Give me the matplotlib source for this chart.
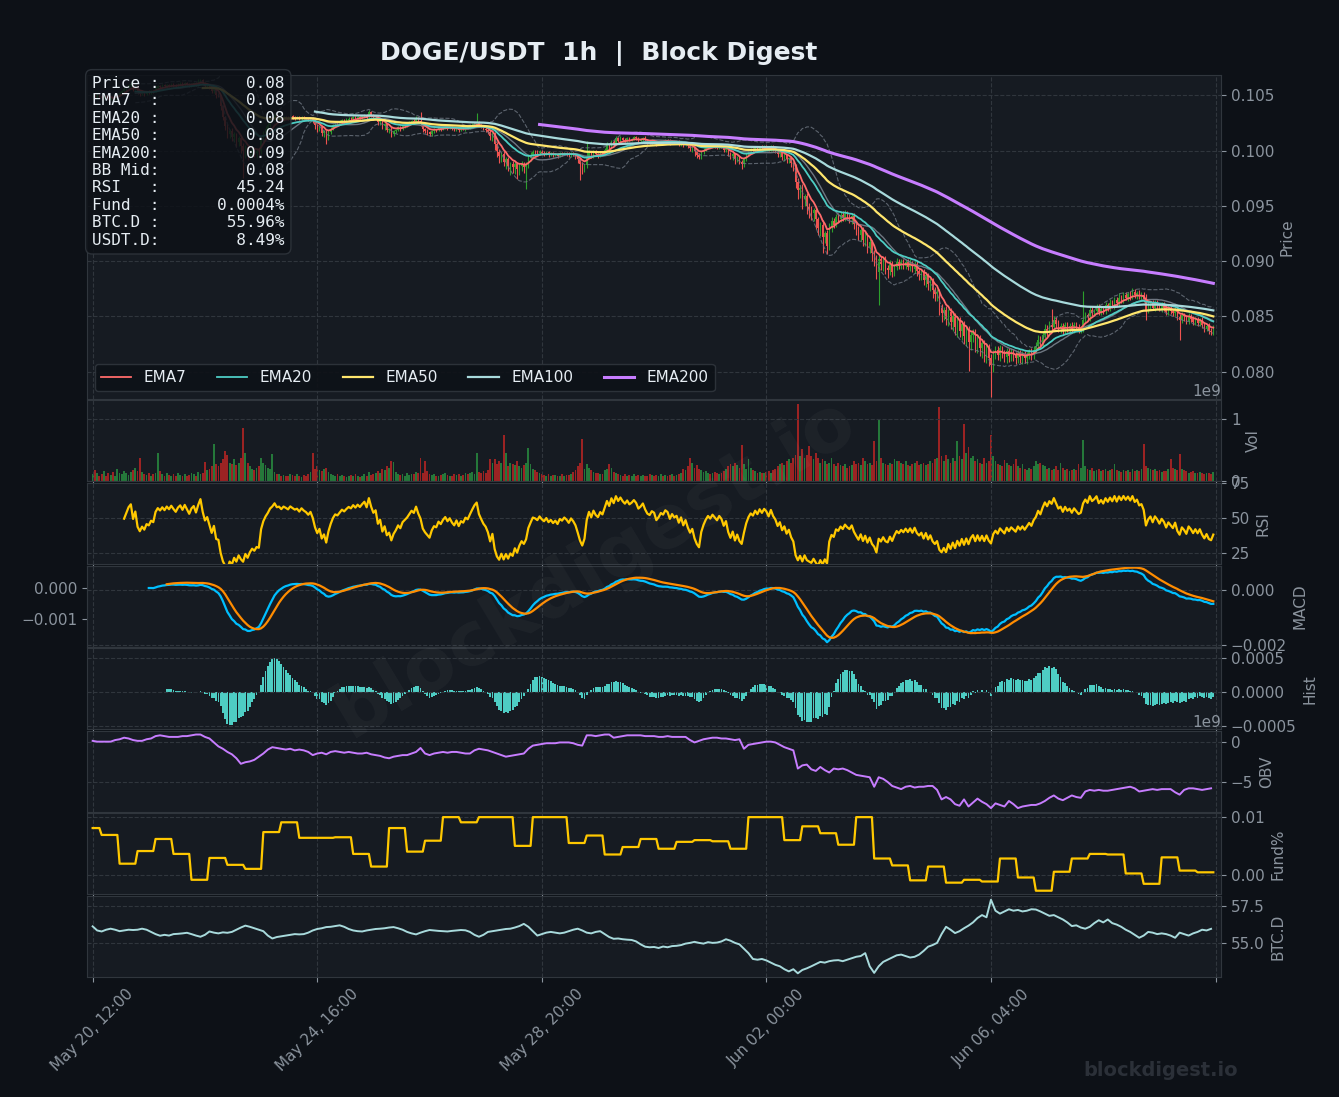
import numpy as np
import pandas as pd
import matplotlib
matplotlib.use("Agg")
import matplotlib.pyplot as plt
from matplotlib.ticker import MaxNLocator, MultipleLocator, FuncFormatter

# ---- data (hourly) ----
start = "2025-05-20 12:00"

# closes in 1e-5 USDT
close_pips = [
    10500, 10488, 10505, 10492, 10478, 10495, 10484, 10470, 10482, 10468, 10480, 10500, 10520, 10540, 10555, 10572, 10590, 10600, 10560, 10585,
    10530, 10510, 10525, 10512, 10530, 10525, 10540, 10535, 10570, 10585, 10578, 10590, 10582, 10595, 10588, 10600, 10592, 10585, 10598, 10605,
    10595, 10610, 10600, 10590, 10605, 10612, 10598, 10620, 10640, 10610, 10585, 10595, 10570, 10540, 10560, 10500, 10495, 10400, 10300, 10220,
    10150, 10180, 10120, 10150, 10080, 10110, 10040, 9990, 10030, 9960, 9990, 10010, 9980, 10000, 9990, 10100, 10160, 10200, 10230, 10270,
    10290, 10320, 10295, 10300, 10285, 10305, 10298, 10290, 10310, 10302, 10295, 10300, 10288, 10305, 10296, 10290, 10280, 10292, 10270, 10230,
    10200, 10215, 10160, 10175, 10120, 10165, 10200, 10230, 10250, 10245, 10260, 10275, 10268, 10280, 10290, 10285, 10300, 10292, 10305, 10298,
    10310, 10320, 10305, 10345, 10320, 10300, 10310, 10260, 10275, 10220, 10240, 10190, 10200, 10150, 10175, 10190, 10210, 10195, 10220, 10230,
    10240, 10255, 10270, 10262, 10290, 10265, 10245, 10200, 10180, 10165, 10150, 10175, 10190, 10185, 10205, 10195, 10210, 10220, 10205, 10215,
    10200, 10190, 10205, 10185, 10200, 10195, 10210, 10205, 10220, 10235, 10250, 10260, 10230, 10215, 10200, 10190, 10170, 10130, 10150, 10060,
    9990, 9950, 9970, 9900, 9920, 9860, 9880, 9850, 9880, 9830, 9860, 9880, 9855, 9875, 9930, 9960, 9990, 9985, 9975, 9995,
    9980, 9970, 9985, 9965, 9975, 9960, 9970, 9955, 9975, 9968, 9980, 9972, 9960, 9975, 9965, 9950, 9920, 9880, 9850, 9870,
    9940, 9980, 9955, 9990, 9970, 9960, 9985, 9975, 10010, 10050, 10030, 10080, 10060, 10110, 10090, 10115, 10100, 10090, 10110, 10095,
    10105, 10120, 10110, 10090, 10100, 10115, 10095, 10080, 10075, 10090, 10085, 10060, 10070, 10085, 10080, 10095, 10090, 10070, 10085, 10075,
    10080, 10060, 10075, 10050, 10065, 10040, 10020, 10030, 9990, 9960, 9940, 9985, 10010, 10030, 10045, 10035, 10050, 10040, 10030, 10045,
    10035, 10010, 10025, 9980, 9950, 9970, 9920, 9940, 9900, 9880, 9920, 9960, 9990, 10010, 10000, 10025, 10010, 10035, 10020, 10040,
    10030, 10010, 10040, 10015, 10000, 9970, 9985, 9945, 9960, 9920, 9935, 9890, 9860, 9720, 9640, 9660, 9560, 9590, 9500, 9470,
    9440, 9460, 9380, 9300, 9330, 9220, 9250, 9140, 9300, 9360, 9330, 9400, 9380, 9420, 9390, 9430, 9400, 9380, 9410, 9340,
    9290, 9240, 9280, 9190, 9230, 9130, 9170, 9070, 9020, 8900, 9020, 8970, 9010, 8940, 8920, 8970, 8900, 8950, 8990, 8960,
    8990, 8960, 8990, 8950, 8980, 8930, 8970, 8910, 8880, 8900, 8830, 8870, 8790, 8820, 8740, 8700, 8720, 8580, 8530, 8560,
    8480, 8540, 8450, 8500, 8400, 8460, 8370, 8430, 8320, 8380, 8270, 8330, 8360, 8250, 8310, 8210, 8260, 8160, 8220, 8120,
    8060, 8160, 8200, 8150, 8210, 8170, 8130, 8190, 8140, 8180, 8150, 8120, 8170, 8130, 8160, 8120, 8150, 8180, 8150, 8200,
    8230, 8290, 8260, 8330, 8390, 8360, 8420, 8400, 8470, 8430, 8390, 8410, 8370, 8420, 8390, 8410, 8380, 8420, 8400, 8380,
    8390, 8470, 8510, 8490, 8560, 8530, 8550, 8580, 8540, 8570, 8550, 8600, 8580, 8620, 8600, 8650, 8620, 8670, 8650, 8690,
    8670, 8700, 8680, 8720, 8690, 8710, 8680, 8690, 8660, 8560, 8600, 8620, 8580, 8620, 8600, 8570, 8600, 8580, 8540, 8570,
    8550, 8530, 8560, 8500, 8470, 8510, 8490, 8460, 8500, 8480, 8450, 8470, 8440, 8460, 8420, 8390, 8410, 8370, 8360, 8385,
]

# upper / lower wick beyond the candle body, 1e-5 USDT
wick_hi = [
    12, 8, 15, 10, 6, 14, 9, 11, 7, 13, 10, 16, 12, 9, 18, 14, 11, 20, 15, 8,
    10, 14, 9, 12, 8, 15, 11, 7, 18, 10, 12, 9, 14, 8, 11, 13, 9, 15, 10, 12,
    14, 9, 11, 16, 8, 12, 10, 25, 12, 9, 14, 8, 11, 10, 13, 9, 18, 12, 10, 15,
    20, 14, 25, 18, 12, 22, 15, 30, 20, 25, 18, 30, 15, 22, 18, 25, 14, 20, 16, 12,
    15, 10, 12, 9, 14, 11, 8, 13, 10, 12, 9, 14, 11, 8, 12, 10, 9, 13, 11, 15,
    12, 9, 14, 10, 8, 20, 15, 12, 10, 9, 13, 11, 8, 12, 10, 14, 9, 11, 8, 10,
    12, 14, 9, 20, 11, 8, 10, 12, 9, 14, 11, 10, 8, 12, 15, 10, 9, 13, 11, 10,
    14, 12, 10, 15, 25, 12, 80, 10, 9, 12, 10, 14, 11, 9, 12, 10, 13, 11, 9, 12,
    10, 12, 9, 11, 14, 10, 12, 9, 13, 15, 11, 80, 12, 10, 9, 11, 10, 14, 18, 20,
    22, 25, 18, 30, 20, 25, 15, 30, 20, 18, 25, 22, 18, 20, 35, 25, 20, 15, 18, 14,
    12, 15, 10, 13, 11, 14, 9, 12, 10, 13, 11, 9, 12, 10, 14, 11, 15, 12, 14, 10,
    150, 30, 20, 18, 15, 12, 14, 10, 18, 25, 20, 15, 12, 18, 14, 20, 12, 15, 10, 14,
    12, 15, 10, 14, 11, 9, 13, 10, 12, 14, 9, 11, 10, 13, 12, 10, 14, 11, 9, 12,
    11, 14, 10, 12, 9, 13, 10, 14, 12, 10, 15, 12, 11, 14, 10, 12, 9, 13, 11, 10,
    12, 10, 14, 11, 9, 13, 10, 12, 15, 11, 14, 18, 12, 10, 14, 11, 13, 10, 12, 15,
    12, 14, 10, 13, 11, 15, 12, 10, 14, 12, 11, 13, 10, 20, 30, 25, 35, 20, 25, 30,
    30, 25, 35, 20, 28, 40, 25, 30, 45, 35, 30, 25, 40, 28, 30, 35, 25, 30, 28, 22,
    25, 30, 22, 28, 35, 25, 30, 22, 28, 35, 40, 30, 25, 35, 28, 40, 30, 25, 35, 28,
    25, 30, 22, 28, 35, 25, 30, 28, 22, 30, 25, 28, 22, 30, 25, 28, 30, 25, 28, 22,
    30, 25, 35, 28, 30, 40, 35, 28, 30, 25, 35, 40, 30, 28, 35, 25, 30, 28, 35, 30,
    40, 35, 30, 28, 35, 25, 30, 28, 25, 30, 28, 25, 30, 28, 25, 30, 28, 25, 30, 28,
    35, 40, 30, 35, 40, 30, 35, 150, 30, 28, 35, 30, 28, 25, 30, 28, 35, 30, 28, 30,
    25, 260, 30, 22, 35, 30, 18, 28, 33, 25, 20, 30, 25, 35, 30, 22, 28, 40, 25, 28,
    30, 22, 28, 35, 30, 18, 25, 30, 28, 40, 30, 22, 25, 30, 28, 20, 32, 28, 25, 30,
    25, 20, 28, 32, 22, 28, 25, 18, 30, 25, 22, 28, 20, 22, 30, 25, 18, 28, 22, 35,
]

wick_lo = [
    10, 14, 9, 12, 16, 8, 13, 11, 15, 9, 12, 10, 8, 14, 10, 12, 9, 11, 16, 10,
    18, 12, 10, 14, 9, 12, 10, 15, 8, 12, 10, 14, 9, 11, 13, 10, 12, 9, 14, 11,
    10, 13, 9, 15, 11, 10, 14, 9, 12, 18, 14, 10, 16, 20, 15, 25, 12, 30, 25, 35,
    40, 35, 30, 45, 50, 40, 60, 240, 60, 45, 40, 50, 35, 45, 30, 25, 20, 18, 15, 12,
    14, 10, 12, 15, 9, 13, 11, 14, 10, 12, 15, 9, 13, 11, 10, 14, 12, 15, 20, 35,
    30, 25, 28, 35, 60, 20, 15, 12, 14, 10, 12, 9, 13, 11, 14, 10, 12, 15, 9, 12,
    10, 12, 15, 9, 14, 20, 18, 25, 30, 22, 35, 20, 30, 25, 18, 14, 12, 15, 10, 12,
    12, 10, 14, 11, 9, 15, 20, 30, 25, 20, 18, 14, 12, 15, 10, 13, 11, 12, 14, 10,
    12, 14, 10, 15, 12, 11, 13, 10, 12, 9, 11, 10, 14, 12, 15, 18, 20, 35, 40, 50,
    45, 60, 50, 40, 70, 45, 80, 50, 60, 90, 50, 40, 60, 200, 30, 25, 20, 22, 18, 15,
    14, 18, 12, 20, 15, 18, 12, 20, 14, 16, 12, 18, 20, 15, 18, 25, 30, 150, 60, 40,
    25, 20, 25, 18, 22, 25, 18, 15, 14, 12, 15, 12, 14, 10, 12, 15, 12, 14, 10, 12,
    12, 10, 14, 18, 12, 10, 15, 18, 14, 12, 15, 20, 12, 10, 14, 12, 10, 15, 12, 14,
    12, 15, 14, 18, 12, 20, 25, 30, 35, 25, 18, 14, 12, 10, 12, 14, 10, 12, 15, 12,
    14, 18, 20, 25, 30, 35, 40, 25, 20, 45, 25, 15, 12, 14, 10, 12, 14, 10, 12, 15,
    12, 15, 12, 14, 18, 25, 30, 28, 35, 30, 28, 35, 40, 60, 80, 70, 90, 60, 70, 80,
    70, 80, 90, 60, 70, 150, 60, 80, 40, 35, 30, 25, 30, 28, 25, 30, 28, 35, 40, 45,
    50, 45, 60, 55, 50, 60, 55, 70, 60, 65, 300, 50, 60, 55, 70, 50, 40, 35, 30, 35,
    30, 35, 30, 28, 35, 30, 40, 45, 50, 55, 50, 60, 55, 60, 70, 65, 60, 70, 80, 60,
    60, 70, 65, 80, 70, 90, 60, 80, 70, 85, 260, 70, 60, 75, 80, 70, 85, 75, 80, 70,
    290, 60, 50, 45, 55, 50, 45, 50, 55, 45, 50, 55, 45, 50, 60, 45, 50, 40, 45, 40,
    35, 30, 40, 35, 30, 40, 35, 30, 28, 35, 30, 40, 35, 30, 28, 35, 30, 28, 35, 30,
    30, 28, 25, 30, 28, 25, 30, 28, 25, 30, 28, 25, 30, 28, 25, 30, 28, 25, 30, 28,
    25, 28, 30, 25, 28, 30, 25, 28, 30, 90, 28, 30, 25, 28, 30, 25, 28, 30, 25, 28,
    30, 28, 25, 30, 180, 28, 30, 25, 28, 30, 25, 28, 30, 25, 28, 30, 25, 28, 30, 25,
]

# volume, millions of DOGE
volume_m = [
    120, 180, 140, 90, 110, 160, 80, 130, 100, 150, 90, 200, 140, 110, 170, 130, 100, 150, 180, 220,
    160, 380, 150, 120, 100, 140, 90, 110, 130, 460, 170, 120, 90, 140, 100, 80, 110, 90, 130, 100,
    90, 120, 80, 100, 140, 110, 90, 150, 120, 130, 310, 180, 200, 240, 600, 280, 250, 300, 350, 490,
    420, 300, 280, 350, 260, 300, 380, 850, 460, 300, 250, 200, 180, 220, 250, 380, 300, 260, 220, 200,
    440, 150, 120, 110, 90, 100, 80, 90, 120, 100, 80, 110, 90, 70, 100, 80, 120, 150, 460, 200,
    250, 180, 160, 200, 220, 150, 120, 100, 90, 110, 80, 100, 90, 70, 85, 95, 80, 110, 90, 75,
    90, 110, 80, 150, 100, 120, 140, 160, 130, 200, 180, 250, 220, 330, 310, 150, 120, 100, 110, 90,
    130, 100, 120, 110, 150, 140, 380, 130, 330, 160, 120, 100, 110, 80, 90, 100, 110, 130, 95, 85,
    90, 110, 100, 120, 80, 95, 140, 110, 130, 150, 120, 460, 150, 130, 160, 140, 180, 360, 300, 350,
    280, 320, 300, 740, 460, 250, 300, 280, 260, 320, 240, 220, 260, 300, 540, 280, 200, 180, 150, 140,
    120, 100, 90, 110, 80, 95, 100, 85, 90, 110, 80, 95, 100, 120, 150, 180, 250, 300, 680, 200,
    280, 220, 180, 150, 130, 140, 120, 110, 180, 200, 280, 220, 150, 130, 110, 100, 90, 110, 85, 100,
    90, 110, 80, 95, 85, 100, 90, 80, 110, 95, 85, 100, 90, 120, 80, 95, 85, 100, 110, 90,
    100, 120, 140, 200, 180, 250, 380, 300, 220, 260, 200, 180, 150, 160, 140, 120, 130, 150, 140, 120,
    130, 160, 200, 240, 280, 250, 300, 260, 220, 580, 280, 200, 350, 220, 180, 160, 140, 150, 130, 140,
    150, 160, 140, 180, 200, 240, 280, 300, 260, 320, 350, 300, 380, 420, 1230, 400, 510, 380, 420, 560,
    400, 350, 450, 380, 300, 350, 320, 280, 300, 380, 280, 250, 300, 260, 240, 280, 220, 240, 260, 320,
    280, 300, 260, 380, 320, 280, 300, 260, 650, 320, 1000, 380, 300, 280, 260, 300, 280, 360, 320, 330,
    300, 280, 320, 260, 240, 280, 300, 320, 260, 280, 300, 260, 280, 320, 300, 350, 380, 1180, 400, 320,
    420, 350, 300, 380, 320, 650, 400, 350, 920, 450, 550, 380, 400, 320, 350, 300, 280, 380, 300, 320,
    740, 400, 320, 280, 260, 240, 340, 300, 260, 240, 280, 360, 250, 220, 280, 200, 180, 220, 200, 240,
    320, 280, 300, 260, 240, 200, 220, 180, 200, 240, 180, 300, 220, 180, 200, 160, 180, 200, 180, 280,
    220, 660, 250, 200, 180, 220, 160, 180, 200, 160, 180, 200, 160, 180, 200, 280, 180, 160, 150, 180,
    160, 180, 150, 200, 170, 180, 160, 200, 600, 250, 220, 200, 180, 200, 160, 180, 150, 170, 160, 200,
    360, 220, 200, 180, 440, 200, 180, 160, 140, 150, 160, 140, 130, 150, 140, 120, 130, 140, 120, 150,
]

# OBV every 2 hours, units of 1e8
obv_2h = [
    2, 1, 1, 1, 1, 3, 4, 6, 5, 3, 2, 2, 4, 5, 8, 9, 8, 7, 7, 7, 8, 8, 9, 10, 10,
    7, 5, 0, -5, -8, -12, -15, -20, -27, -25, -24, -22, -18, -14, -9, -6, -7, -8, -9, -8, -10, -9, -10, -12, -16,
    -14, -13, -15, -12, -11, -12, -13, -12, -13, -14, -14, -13, -15, -16, -17, -19, -20, -18, -17, -16, -16, -14, -12, -7, -14,
    -16, -14, -13, -12, -13, -12, -12, -13, -14, -14, -10, -8, -9, -10, -12, -14, -16, -18, -17, -16, -15, -14, -8, -4, -3,
    -2, -1, -1, -1, 0, 0, 0, -1, -3, -4, 9, 9, 8, 9, 10, 10, 6, 7, 8, 9, 9, 9, 9, 8, 8,
    8, 7, 7, 8, 7, 7, 7, 7, 3, 0, 2, 4, 5, 6, 6, 5, 5, 4, 3, 4, -8, -3, -2, -1, 0,
    1, 1, 0, -3, -6, -8, -10, -33, -29, -28, -34, -36, -31, -35, -38, -33, -34, -33, -35, -38, -41, -42, -43, -44, -56,
    -44, -46, -50, -55, -57, -59, -56, -55, -57, -56, -56, -55, -55, -60, -72, -69, -72, -78, -80, -72, -81, -76, -71, -75, -78,
    -83, -77, -79, -81, -74, -78, -83, -81, -80, -79, -79, -77, -74, -70, -67, -71, -73, -70, -67, -69, -70, -62, -60, -61, -60,
    -61, -61, -60, -59, -58, -57, -56, -58, -62, -61, -60, -59, -60, -59, -59, -59, -63, -66, -60, -58, -58, -59, -60, -59, -58,
]

# BTC dominance every 2 hours, %
btcd_2h = [
    56.13, 55.85, 55.78, 55.90, 55.97, 55.90, 55.80, 55.85, 55.90, 55.88, 55.90, 55.97, 55.90, 55.75, 55.60, 55.49, 55.55, 55.50, 55.60, 55.62, 55.65, 55.69, 55.60, 55.50, 55.42,
    55.55, 55.78, 55.70, 55.65, 55.72, 55.69, 55.75, 55.90, 56.05, 56.18, 56.10, 56.00, 55.90, 55.80, 55.50, 55.30, 55.40, 55.45, 55.50, 55.55, 55.60, 55.58, 55.60, 55.70, 55.85,
    55.95, 56.00, 56.08, 56.10, 56.15, 56.20, 56.10, 55.95, 55.85, 55.80, 55.78, 55.85, 55.90, 55.95, 55.97, 56.00, 56.05, 56.08, 56.00, 55.90, 55.75, 55.65, 55.58, 55.70, 55.80,
    55.88, 55.85, 55.82, 55.80, 55.78, 55.82, 55.85, 55.88, 55.86, 55.75, 55.55, 55.42, 55.55, 55.75, 55.80, 55.85, 55.90, 55.95, 55.97, 56.05, 56.15, 56.30, 56.10, 55.80, 55.50,
    55.60, 55.70, 55.75, 55.70, 55.65, 55.70, 55.80, 55.90, 55.97, 55.85, 55.70, 55.65, 55.75, 55.80, 55.60, 55.40, 55.28, 55.30, 55.25, 55.22, 55.20, 55.10, 54.90, 54.74, 54.70,
    54.72, 54.65, 54.75, 54.70, 54.78, 54.80, 54.85, 54.95, 55.00, 55.07, 55.00, 54.95, 55.05, 55.00, 55.02, 55.10, 55.25, 55.15, 55.00, 54.90, 54.60, 54.30, 53.90, 53.85, 53.90,
    53.80, 53.65, 53.50, 53.40, 53.20, 53.05, 53.20, 52.92, 53.15, 53.26, 53.40, 53.55, 53.70, 53.65, 53.75, 53.80, 53.82, 53.75, 53.85, 53.95, 54.05, 54.10, 54.30, 53.40, 52.95,
    53.40, 53.70, 53.85, 54.00, 54.15, 54.20, 54.10, 54.00, 54.05, 54.20, 54.45, 54.74, 54.85, 55.00, 55.60, 56.10, 55.90, 55.67, 55.80, 56.00, 56.18, 56.40, 56.70, 56.90, 56.75,
    57.95, 57.20, 57.00, 57.15, 57.30, 57.20, 57.25, 57.15, 57.20, 57.30, 57.28, 57.15, 57.00, 56.85, 56.90, 56.75, 56.60, 56.40, 56.15, 56.20, 56.05, 55.97, 56.10, 56.35, 56.55,
    56.40, 56.60, 56.35, 56.25, 56.10, 55.90, 55.75, 55.55, 55.35, 55.50, 55.75, 55.70, 55.60, 55.65, 55.60, 55.50, 55.35, 55.70, 55.60, 55.50, 55.65, 55.75, 55.90, 55.85, 55.96,
]

# funding rate % per 8h window (first window is 4h: 12:00-16:00)
fund_pct = [
    0.0081, 0.0069, 0.0019, 0.0041, 0.0062, 0.0036, -0.0009, 0.0029, 0.0017, 0.0010,
    0.0074, 0.0091, 0.0064, 0.0064, 0.0065, 0.0036, 0.0014, 0.0081, 0.0040, 0.0059,
    0.0100, 0.0091, 0.0100, 0.0100, 0.0050, 0.0100, 0.0100, 0.0055, 0.0068, 0.0035,
    0.0048, 0.0062, 0.0045, 0.0057, 0.0060, 0.0058, 0.0045, 0.0100, 0.0100, 0.0060,
    0.0084, 0.0072, 0.0052, 0.0100, 0.0028, 0.0016, -0.0010, 0.0014, -0.0014, -0.0009,
    -0.0012, 0.0028, -0.0005, -0.0028, 0.0005, 0.0028, 0.0036, 0.0035, 0.0002, -0.0016,
    0.0030, 0.0007, 0.0004,
]

info_labels = ["Price :", "EMA7  :", "EMA20 :", "EMA50 :", "EMA200:", "BB Mid:",
               "RSI   :", "Fund  :", "BTC.D :", "USDT.D:"]
info_values = ["0.08", "0.08", "0.08", "0.08", "0.09", "0.08",
               "45.24", "0.0004%", "55.96%", "8.49%"]

# ---- indicators ----
close = np.array(close_pips) / 1e5
n = len(close)
t = np.arange(n)
opn = np.r_[close[0], close[:-1]]
high = np.maximum(opn, close) + np.array(wick_hi) / 1e5
low = np.minimum(opn, close) - np.array(wick_lo) / 1e5
vol = np.array(volume_m) * 1e6
up = close >= opn

s = pd.Series(close)
def ema(x, p):
    return x.ewm(span=p, adjust=False, min_periods=p).mean()
emas = {p: ema(s, p) for p in (7, 20, 50, 100, 200)}
bb_mid = s.rolling(20).mean()
bb_sd = s.rolling(20).std(ddof=0)
d = s.diff()
ag = d.clip(lower=0).ewm(alpha=1/14, adjust=False, min_periods=14).mean()
al = (-d.clip(upper=0)).ewm(alpha=1/14, adjust=False, min_periods=14).mean()
rsi = 100 - 100 / (1 + ag / al)
macd = ema(s, 12) - ema(s, 26)
signal = macd.ewm(span=9, adjust=False, min_periods=9).mean()
hist = macd - signal

t2 = np.arange(0, n, 2)
obv = np.array(obv_2h) * 1e8
btcd = np.array(btcd_2h)
fund_len = [4] + [8] * (len(fund_pct) - 1)
fund = np.repeat(fund_pct, fund_len)[:n]

dates = pd.date_range(start, periods=n, freq="h")

# ---- style ----
BG = "#0d1117"
AX = "#161b22"
GRID = "#30363d"
TXT = "#8b949e"
GREEN = "#2ca02c"
RED = "#ef5350"
STEPS = [1, 2, 2.5, 5, 10]

fig = plt.figure(figsize=(13.39, 10.97), dpi=100, facecolor=BG)
gs = fig.add_gridspec(8, 1, height_ratios=[4, 1, 1, 1, 1, 1, 1, 1], hspace=0.015,
                      left=0.065, right=0.912, top=0.9316, bottom=0.1094)
ax = fig.add_subplot(gs[0])
axes = [ax] + [fig.add_subplot(gs[i], sharex=ax) for i in range(1, 8)]
ax_p, ax_v, ax_r, ax_m, ax_h, ax_o, ax_f, ax_b = axes

def style(a, label):
    a.set_facecolor(AX)
    a.grid(True, color=GRID, linestyle="--", linewidth=0.8)
    a.yaxis.tick_right()
    a.yaxis.set_label_position("right")
    a.set_ylabel(label, color=TXT, fontsize=11)
    a.tick_params(colors=TXT, labelsize=11)
    a.yaxis.get_offset_text().set_color(TXT)
    a.yaxis.get_offset_text().set_fontsize(11)
    for sp in a.spines.values():
        sp.set_color(GRID)

labels = ["Price", "Vol", "RSI", "MACD", "Hist", "OBV", "Fund%", "BTC.D"]
for a, lab in zip(axes, labels):
    style(a, lab)
    if a is not ax_p:
        a.yaxis.set_major_locator(MaxNLocator(nbins=2, steps=STEPS))
    if a is not ax_b:
        plt.setp(a.get_xticklabels(), visible=False)

# price: candles, bollinger, emas
cols = np.where(up, GREEN, RED)
ax_p.vlines(t, low, high, colors=cols, linewidth=0.8)
ax_p.bar(t, np.abs(close - opn), bottom=np.minimum(opn, close), width=0.6, color=cols)
ax_p.plot(t, bb_mid, color="#6e7681", linewidth=1.0)
ax_p.plot(t, bb_mid + 2 * bb_sd, color="#6e7681", linewidth=0.8, linestyle="--", alpha=0.8)
ax_p.plot(t, bb_mid - 2 * bb_sd, color="#6e7681", linewidth=0.8, linestyle="--", alpha=0.8)
ema_style = {7: ("#ff6b6b", 1.3), 20: ("#4ecdc4", 1.3), 50: ("#ffe66d", 1.6),
             100: ("#a8dadc", 1.6), 200: ("#c77dff", 2.2)}
for p, (c, lw) in ema_style.items():
    ax_p.plot(t, emas[p], color=c, linewidth=lw, label=f"EMA{p}")
ax_p.set_ylim(low.min() * 0.998, high.max() * 1.003)
ax_p.legend(loc="lower left", ncol=5, fontsize=11, facecolor=BG, edgecolor=GRID,
            labelcolor="#e6edf3", framealpha=0.9)

info = "\n".join(f"{l}{v:>13}" for l, v in zip(info_labels, info_values))
ax_p.text(0.0044, 0.997, info, transform=ax_p.transAxes, va="top", ha="left",
          family="DejaVu Sans Mono", fontsize=11.5, color="#e6edf3", zorder=10,
          bbox=dict(boxstyle="round,pad=0.4", facecolor=BG, edgecolor=GRID, alpha=0.85))

# volume
ax_v.bar(t, vol, width=0.8, color=np.where(up, "#25783a", "#9c2323"))

# rsi
ax_r.plot(t, rsi, color="#ffc800", linewidth=1.6)
ax_r.set_ylim(17, 75.3)

# macd (signal on a twin axis with its own scale, ticks on the left)
ax_m.plot(t, macd, color="#00bfff", linewidth=1.6)
ax_s = ax_m.twinx()
ax_s.plot(t, signal, color="#ff8c00", linewidth=1.6)
ax_m.yaxis.tick_right()
ax_s.yaxis.tick_left()
ax_m.set_ylim(-0.00204, 0.00088)
ax_s.set_ylim(-0.0019, 0.00074)
ax_s.yaxis.set_major_locator(MaxNLocator(nbins=2, steps=STEPS))
ax_s.tick_params(colors=TXT, labelsize=11)
ax_s.grid(False)
for sp in ax_s.spines.values():
    sp.set_color(GRID)

# histogram
ax_h.bar(t, hist, width=0.8, color="#4ecdc4")
ax_h.set_ylim(-0.00055, 0.00065)

# obv
ax_o.plot(t2, obv, color="#c77dff", linewidth=1.4)

# funding
ax_f.plot(t, fund, color="#ffc800", linewidth=1.6)

# btc dominance
ax_b.plot(t2, btcd, color="#a8dadc", linewidth=1.4)

ax_p.set_xlim(-2.5, 502.5)
ax_b.xaxis.set_major_locator(MultipleLocator(100))
ax_b.xaxis.set_major_formatter(FuncFormatter(
    lambda x, pos: dates[int(x)].strftime("%b %d, %H:%M") if 0 <= int(x) < n else ""))
plt.setp(ax_b.get_xticklabels(), rotation=45, color=TXT, fontsize=11)

fig.text(0.4474, 0.951, "DOGE/USDT  1h  |  Block Digest", ha="center", va="center",
         fontsize=18, fontweight="bold", color="#e6edf3")
fig.text(0.444, 0.483, "blockdigest.io", ha="center", va="center", rotation=31,
         fontsize=54, fontweight="bold", color="white", alpha=0.035)
fig.text(0.867, 0.024, "blockdigest.io", ha="center", va="center",
         fontsize=14, fontweight="bold", color="#2b3038")

fig.savefig("out.png", dpi=100, facecolor=BG)
